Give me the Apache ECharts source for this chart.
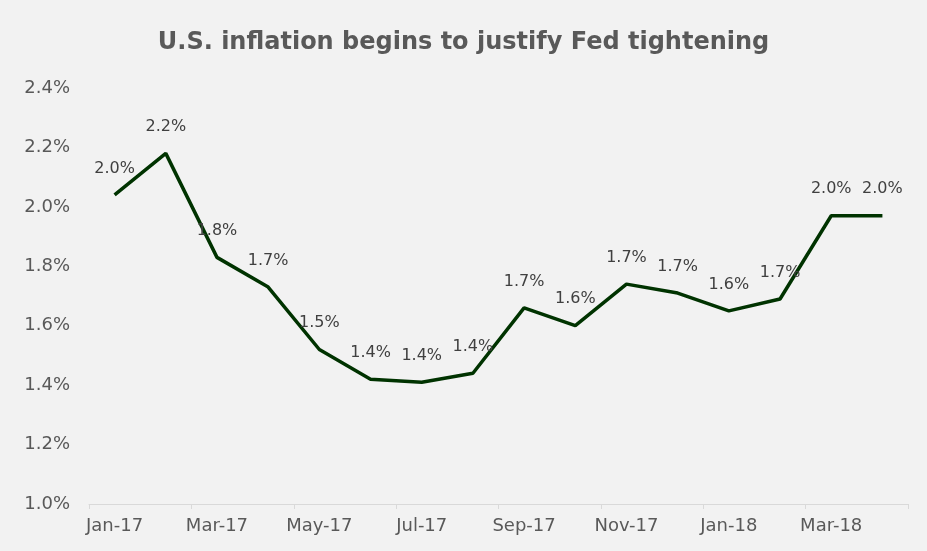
<!DOCTYPE html>
<html>
<head>
<meta charset="utf-8">
<script src="https://cdn.jsdelivr.net/npm/echarts@6/dist/echarts.min.js"></script>
<style>
  html, body { margin: 0; padding: 0; background: #f2f2f2; }
  #chart { width: 927px; height: 551px; }
</style>
</head>
<body>
<div id="chart"></div>
<script>
// Monthly U.S. inflation rate, year over year (%)
const months = ['Jan-17', 'Feb-17', 'Mar-17', 'Apr-17', 'May-17', 'Jun-17', 'Jul-17', 'Aug-17',
                'Sep-17', 'Oct-17', 'Nov-17', 'Dec-17', 'Jan-18', 'Feb-18', 'Mar-18', 'Apr-18'];
const inflation = [2.04, 2.18, 1.83, 1.73, 1.52, 1.42, 1.41, 1.44,
                   1.66, 1.60, 1.74, 1.71, 1.65, 1.69, 1.97, 1.97];
const titleText = 'U.S. inflation begins to justify Fed tightening';
const yMin = 1.0, yMax = 2.4, yStep = 0.2;

const font = '"DejaVu Sans", Verdana, sans-serif';
const chart = echarts.init(document.getElementById('chart'));
chart.setOption({
  backgroundColor: '#f2f2f2',
  animation: false,
  title: {
    text: titleText,
    left: 'center',
    top: 26,
    textStyle: { fontFamily: font, fontSize: 24, fontWeight: 'bold', color: '#595959' }
  },
  grid: { left: 89, right: 19, top: 88, bottom: 47 },
  xAxis: {
    type: 'category',
    data: months,
    boundaryGap: true,
    axisLine: { lineStyle: { color: '#d9d9d9', width: 1 } },
    axisTick: { show: true, interval: 1, length: 5, lineStyle: { color: '#d9d9d9' } },
    axisLabel: { interval: 1, margin: 13, color: '#595959', fontFamily: font, fontSize: 18 }
  },
  yAxis: {
    type: 'value',
    min: yMin,
    max: yMax,
    interval: yStep,
    splitLine: { show: false },
    axisLine: { show: false },
    axisTick: { show: false },
    axisLabel: {
      margin: 19,
      color: '#595959',
      fontFamily: font,
      fontSize: 18,
      formatter: v => v.toFixed(1) + '%'
    }
  },
  series: [{
    type: 'line',
    data: inflation,
    symbol: 'circle',
    symbolSize: 1,
    showSymbol: true,
    itemStyle: { color: 'rgba(0,0,0,0)', borderWidth: 0 },
    lineStyle: { color: '#003300', width: 3.5 },
    label: {
      show: true,
      position: 'top',
      distance: 18,
      color: '#404040',
      fontFamily: font,
      fontSize: 16,
      formatter: p => p.value.toFixed(1) + '%'
    },
    labelLayout: { hideOverlap: false }
  }]
});
</script>
</body>
</html>
